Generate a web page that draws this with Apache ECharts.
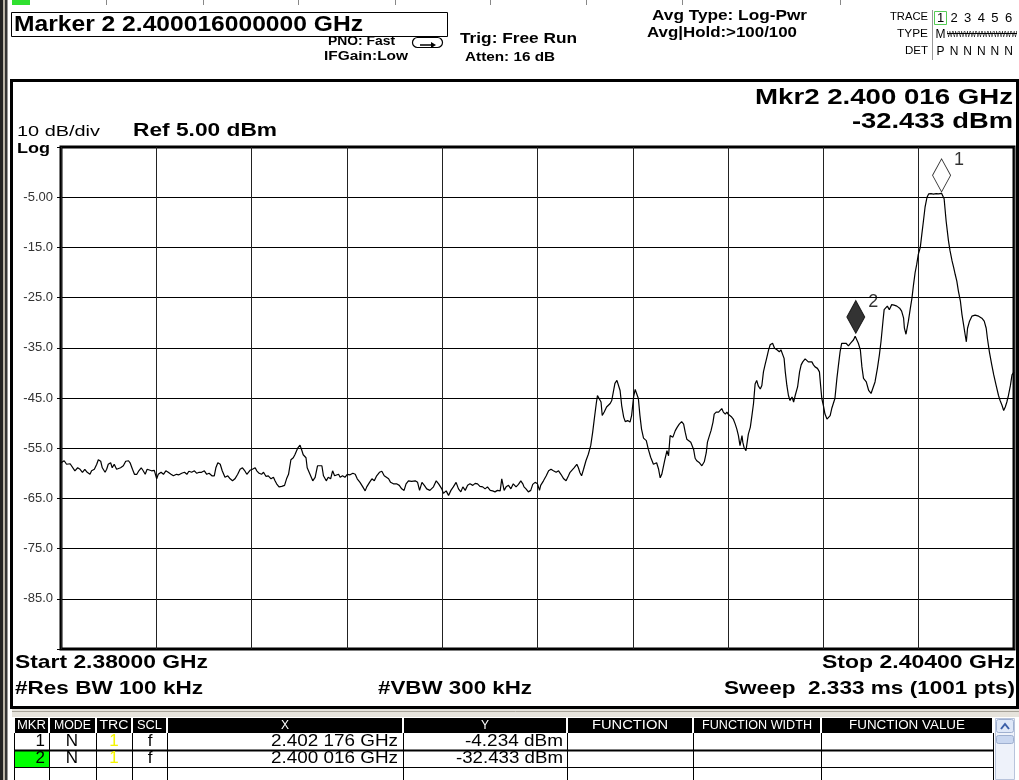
<!DOCTYPE html>
<html>
<head>
<meta charset="utf-8">
<title>Marker 2 2.400016000000 GHz</title>
<script src="https://cdn.jsdelivr.net/npm/echarts@6/dist/echarts.min.js"></script>
<style>
  html, body { margin: 0; padding: 0; background: #fff; }
  #chart { width: 1019px; height: 780px; }
</style>
</head>
<body>
<div id="chart"></div>
<script>
// sweep setup
const startGHz = 2.38;
const stopGHz = 2.404;
const refLevelDbm = 5;
const dbPerDiv = 10;
const yTickLabels = ['-5.00', '-15.0', '-25.0', '-35.0', '-45.0', '-55.0', '-65.0', '-75.0', '-85.0'];

// trace 1 : [MHz above start, dBm]
const trace1 = [
  [0.00,-57.9],[0.08,-57.5],[0.14,-58.2],[0.23,-58.1],[0.27,-57.9],[0.35,-59.5],[0.42,-58.9],[0.48,-59.2],
  [0.54,-59.8],[0.60,-59.2],[0.66,-59.8],[0.73,-60.2],[0.77,-59.5],[0.84,-59.2],[0.90,-58.2],[0.94,-57.3],
  [1.00,-57.6],[1.04,-58.9],[1.11,-59.8],[1.15,-59.2],[1.19,-58.2],[1.25,-57.9],[1.29,-58.9],[1.34,-58.2],
  [1.40,-59.2],[1.44,-59.5],[1.50,-58.9],[1.57,-58.5],[1.63,-57.6],[1.70,-57.5],[1.74,-57.9],[1.80,-59.2],
  [1.85,-60.2],[1.91,-60.2],[1.96,-59.5],[2.02,-58.9],[2.07,-59.5],[2.12,-60.2],[2.17,-59.2],[2.22,-58.9],
  [2.28,-59.5],[2.35,-59.4],[2.41,-61.1],[2.45,-60.2],[2.52,-59.8],[2.58,-60.2],[2.64,-59.5],[2.70,-59.8],
  [2.77,-60.2],[2.83,-60.5],[2.91,-60.2],[2.97,-60.3],[3.04,-60.0],[3.11,-59.8],[3.17,-60.2],[3.22,-59.6],
  [3.29,-59.8],[3.36,-59.5],[3.42,-60.0],[3.48,-59.8],[3.54,-59.8],[3.61,-59.5],[3.67,-60.2],[3.73,-60.0],
  [3.80,-60.5],[3.86,-60.5],[3.90,-58.9],[3.95,-57.9],[4.01,-58.2],[4.06,-59.5],[4.13,-60.8],[4.20,-60.5],
  [4.26,-61.1],[4.32,-61.5],[4.38,-61.1],[4.45,-60.2],[4.51,-59.2],[4.57,-58.9],[4.62,-59.4],[4.68,-60.2],
  [4.72,-60.5],[4.76,-59.4],[4.82,-59.2],[4.89,-58.9],[4.93,-59.5],[4.99,-60.0],[5.05,-60.2],[5.10,-59.8],
  [5.16,-60.6],[5.22,-60.5],[5.29,-61.1],[5.35,-60.8],[5.39,-61.5],[5.43,-62.1],[5.49,-62.7],[5.56,-62.6],
  [5.63,-62.4],[5.68,-61.1],[5.73,-60.2],[5.79,-57.3],[5.85,-56.9],[5.89,-56.3],[5.96,-55.0],[6.02,-54.4],
  [6.06,-55.3],[6.10,-56.3],[6.17,-56.9],[6.20,-58.9],[6.27,-60.2],[6.34,-61.5],[6.40,-60.8],[6.46,-58.5],
  [6.51,-58.2],[6.57,-58.5],[6.61,-60.5],[6.68,-61.5],[6.73,-60.8],[6.79,-61.1],[6.84,-59.5],[6.89,-60.5],
  [6.94,-60.8],[6.99,-60.2],[7.03,-60.8],[7.09,-60.5],[7.15,-60.8],[7.21,-60.2],[7.28,-60.3],[7.35,-60.0],
  [7.41,-60.2],[7.46,-61.1],[7.53,-61.8],[7.60,-62.7],[7.66,-63.5],[7.70,-62.7],[7.77,-61.8],[7.83,-61.1],
  [7.89,-61.5],[7.95,-60.5],[8.02,-59.8],[8.08,-59.6],[8.14,-60.5],[8.19,-60.8],[8.25,-61.1],[8.30,-61.8],
  [8.37,-62.1],[8.45,-62.1],[8.52,-62.4],[8.58,-63.1],[8.64,-63.4],[8.69,-62.1],[8.75,-61.5],[8.83,-61.6],
  [8.92,-61.5],[8.98,-61.8],[9.03,-63.4],[9.09,-61.8],[9.15,-62.4],[9.21,-63.1],[9.29,-63.4],[9.38,-62.7],
  [9.45,-61.5],[9.51,-62.1],[9.55,-62.4],[9.59,-63.1],[9.63,-64.0],[9.70,-63.5],[9.76,-64.4],[9.82,-63.4],
  [9.88,-62.7],[9.95,-61.8],[10.01,-63.1],[10.07,-63.7],[10.12,-62.7],[10.18,-63.4],[10.24,-62.4],[10.30,-62.1],
  [10.37,-62.4],[10.43,-62.0],[10.49,-62.1],[10.55,-62.6],[10.62,-62.7],[10.68,-63.1],[10.74,-62.7],[10.81,-63.4],
  [10.87,-63.5],[10.93,-63.7],[10.99,-63.4],[11.06,-63.5],[11.10,-61.1],[11.16,-63.4],[11.21,-62.7],[11.27,-62.4],
  [11.33,-63.1],[11.39,-62.1],[11.46,-62.7],[11.52,-62.2],[11.58,-61.5],[11.63,-62.1],[11.66,-62.7],[11.71,-63.1],
  [11.77,-63.7],[11.83,-63.4],[11.88,-62.2],[11.94,-61.8],[12.00,-62.1],[12.05,-63.4],[12.08,-62.4],[12.15,-61.5],
  [12.22,-60.5],[12.28,-59.5],[12.34,-59.2],[12.40,-59.5],[12.47,-59.8],[12.53,-59.5],[12.59,-60.2],[12.66,-61.1],
  [12.72,-61.5],[12.78,-60.5],[12.82,-59.8],[12.86,-59.9],[12.92,-58.9],[12.99,-58.2],[13.03,-58.9],[13.07,-59.9],
  [13.11,-60.5],[13.16,-59.2],[13.22,-57.5],[13.28,-56.2],[13.34,-54.5],[13.39,-51.8],[13.43,-49.2],[13.48,-46.1],
  [13.51,-44.5],[13.56,-44.6],[13.60,-45.8],[13.63,-48.5],[13.68,-47.8],[13.74,-46.8],[13.83,-46.1],[13.87,-45.5],
  [13.91,-43.8],[13.95,-42.1],[14.00,-41.5],[14.04,-41.8],[14.08,-43.5],[14.12,-46.5],[14.17,-48.8],[14.21,-49.7],
  [14.27,-49.5],[14.33,-49.8],[14.37,-48.5],[14.40,-48.2],[14.42,-44.8],[14.46,-43.3],[14.50,-43.0],[14.54,-45.1],
  [14.58,-48.5],[14.62,-51.2],[14.67,-53.0],[14.74,-53.5],[14.79,-55.2],[14.85,-56.8],[14.92,-58.2],[14.96,-58.5],
  [15.00,-57.9],[15.05,-59.2],[15.09,-60.9],[15.13,-60.2],[15.17,-59.9],[15.21,-57.2],[15.26,-55.5],[15.30,-56.5],
  [15.34,-52.5],[15.41,-52.8],[15.47,-51.5],[15.52,-50.8],[15.57,-50.2],[15.63,-49.7],[15.68,-50.2],[15.72,-51.8],
  [15.76,-53.2],[15.80,-53.0],[15.86,-53.8],[15.93,-55.2],[15.97,-57.0],[16.01,-57.5],[16.08,-57.9],[16.14,-58.5],
  [16.20,-57.7],[16.25,-55.9],[16.28,-53.8],[16.33,-52.5],[16.37,-51.5],[16.42,-49.8],[16.45,-48.2],[16.50,-47.8],
  [16.56,-47.8],[16.60,-47.5],[16.64,-47.1],[16.68,-47.8],[16.73,-48.2],[16.77,-47.8],[16.81,-48.3],[16.85,-48.2],
  [16.89,-48.8],[16.93,-49.2],[16.98,-50.2],[17.02,-51.2],[17.06,-52.5],[17.10,-54.5],[17.15,-52.5],[17.17,-53.8],
  [17.20,-54.8],[17.25,-55.5],[17.29,-55.2],[17.31,-52.2],[17.36,-50.8],[17.40,-48.5],[17.44,-46.1],[17.48,-42.2],
  [17.52,-41.5],[17.56,-42.6],[17.61,-43.2],[17.65,-42.5],[17.69,-39.8],[17.73,-38.4],[17.77,-37.1],[17.82,-35.4],
  [17.86,-34.4],[17.92,-34.1],[17.97,-35.1],[18.03,-35.4],[18.09,-35.8],[18.13,-35.4],[18.18,-35.4],[18.21,-37.1],
  [18.24,-39.8],[18.28,-42.5],[18.32,-44.5],[18.36,-45.5],[18.41,-44.8],[18.45,-45.8],[18.49,-44.5],[18.55,-42.8],
  [18.60,-39.8],[18.64,-38.4],[18.68,-37.8],[18.74,-37.2],[18.78,-37.0],[18.82,-37.8],[18.87,-38.1],[18.91,-37.8],
  [18.95,-38.4],[18.99,-38.8],[19.05,-39.1],[19.10,-39.8],[19.13,-42.5],[19.16,-45.1],[19.20,-46.5],[19.24,-48.2],
  [19.29,-49.2],[19.33,-49.5],[19.37,-48.5],[19.41,-47.1],[19.45,-46.8],[19.49,-45.1],[19.54,-41.1],[19.58,-38.4],
  [19.62,-35.8],[19.66,-34.1],[19.71,-33.8],[19.77,-34.1],[19.83,-34.6],[19.88,-34.1],[19.92,-34.3],[19.96,-33.4],
  [20.00,-32.7],[20.016,-32.433],[20.04,-32.9],[20.08,-34.1],[20.13,-35.4],[20.17,-38.8],[20.21,-41.1],[20.28,-41.8],
  [20.34,-43.5],[20.40,-44.1],[20.45,-43.8],[20.50,-41.8],[20.56,-39.1],[20.61,-36.4],[20.65,-33.8],[20.70,-29.7],
  [20.73,-27.4],[20.78,-27.1],[20.81,-26.7],[20.86,-27.4],[20.92,-26.4],[20.98,-26.5],[21.05,-26.7],[21.12,-27.1],
  [21.17,-27.7],[21.22,-29.1],[21.24,-31.1],[21.28,-32.3],[21.30,-32.1],[21.34,-29.7],[21.39,-27.1],[21.43,-25.1],
  [21.47,-22.4],[21.51,-20.0],[21.55,-18.4],[21.59,-16.4],[21.64,-15.0],[21.68,-12.3],[21.72,-9.7],[21.76,-7.0],
  [21.81,-5.0],[21.85,-4.35],[21.91,-4.3],[21.97,-4.4],[22.04,-4.28],[22.10,-4.35],[22.176,-4.234],[22.21,-4.3],
  [22.24,-5.3],[22.29,-9.7],[22.35,-13.7],[22.39,-15.7],[22.44,-17.7],[22.48,-19.0],[22.52,-20.4],[22.56,-21.7],
  [22.60,-23.7],[22.65,-25.7],[22.69,-28.4],[22.73,-30.4],[22.77,-32.4],[22.80,-33.8],[22.83,-31.1],[22.88,-29.7],
  [22.94,-28.7],[23.02,-28.5],[23.11,-28.7],[23.19,-29.1],[23.25,-29.7],[23.30,-31.1],[23.33,-33.1],[23.38,-35.8],
  [23.44,-38.4],[23.49,-40.4],[23.55,-42.5],[23.61,-44.5],[23.65,-45.5],[23.70,-46.5],[23.74,-47.5],[23.78,-46.8],
  [23.82,-45.8],[23.86,-44.5],[23.91,-42.5],[23.95,-40.4],[24.00,-39.8]
];

// markers
const markerIds = ['1', '2'];
const markerOffsetMHz = [22.176, 20.016];
const markerLevelDbm = [-4.234, -32.433];
const markerFreqText = ['2.402 176 GHz', '2.400 016 GHz'];
const markerLevelText = ['-4.234 dBm', '-32.433 dBm'];
const activeMarker = 1;

// trace table (top right)
const traceNums = ['1', '2', '3', '4', '5', '6'];
const traceDet = ['P', 'N', 'N', 'N', 'N', 'N'];

const spanMHz = Math.round((stopGHz - startGHz) * 1000);

const SANS = '"Liberation Sans", Arial, sans-serif';
const NARROW = '"Liberation Sans Narrow", "Liberation Sans", Arial, sans-serif';
const measure = document.createElement('canvas').getContext('2d');

// text with optional stretch to a target width (instrument font is wider than Arial)
function txt(x, y, text, size, opt) {
  opt = opt || {};
  const font = (opt.bold ? 'bold ' : '') + size + 'px ' + (opt.family || SANS);
  let sx = 1;
  if (opt.w) {
    measure.font = font;
    sx = opt.w / measure.measureText(text).width;
  }
  const align = opt.align || 'left';
  return {
    type: 'text', x: x, y: y, scaleX: sx, z: 20, silent: true,
    style: {
      text: text, font: font, fill: opt.color || '#000',
      align: align, verticalAlign: 'middle',
      textAlign: align, textVerticalAlign: 'middle'
    }
  };
}
function box(x, y, w, h, fill, stroke, lw, r) {
  return {
    type: 'rect', z: 5, silent: true,
    shape: { x: x, y: y, width: w, height: h, r: r || 0 },
    style: { fill: fill || 'none', stroke: stroke || 'none', lineWidth: lw || 1 }
  };
}
function ln(x1, y1, x2, y2, color, lw) {
  return {
    type: 'line', z: 6, silent: true,
    shape: { x1: x1, y1: y1, x2: x2, y2: y2 },
    style: { stroke: color || '#000', lineWidth: lw || 1 }
  };
}

const g = [];

// frame / header
g.push(box(0, 0, 3, 780, '#222'));
g.push(box(3, 0, 2, 780, '#b9b3a6'));
g.push(box(5, 0, 2.5, 780, '#333'));
g.push(box(12, 0, 18, 5, '#2fe02f'));
[106, 203, 298, 395, 490, 586, 682, 840].forEach(function (x) { g.push(ln(x + 0.5, 0, x + 0.5, 5, '#888', 1)); });
g.push(box(11.5, 12.5, 436, 24, '#fff', '#000', 1));
g.push(txt(14, 25, 'Marker 2 2.400016000000 GHz', 22, { bold: true, w: 349 }));
g.push(txt(328, 41, 'PNO: Fast', 13, { bold: true, w: 67 }));
g.push(txt(324, 56, 'IFGain:Low', 13, { bold: true, w: 84 }));
g.push(box(412.5, 37.5, 30, 10, 'none', '#000', 1.2, 5));
g.push(ln(420, 45, 432, 45, '#000', 1.5));
g.push({ type: 'polygon', z: 6, silent: true, shape: { points: [[431, 42], [436, 45], [431, 48]] }, style: { fill: '#000' } });
g.push(txt(460, 39, 'Trig: Free Run', 14, { bold: true, w: 117 }));
g.push(txt(465, 57, 'Atten: 16 dB', 13, { bold: true, w: 90 }));
g.push(txt(652, 16, 'Avg Type: Log-Pwr', 14, { bold: true, w: 155 }));
g.push(txt(647, 33, 'Avg|Hold:>100/100', 14, { bold: true, w: 150 }));

// trace type/detector block
g.push(txt(928, 17, 'TRACE', 11, { align: 'right', w: 38 }));
g.push(txt(928, 34, 'TYPE', 11, { align: 'right', w: 31 }));
g.push(txt(928, 51, 'DET', 11, { align: 'right', w: 23 }));
g.push(ln(932.5, 10, 932.5, 60, '#999', 1));
g.push(box(934.5, 11.5, 12, 13, 'none', '#5c5', 1));
traceNums.forEach(function (t, i) {
  const cx = 940.5 + i * 13.6;
  g.push(txt(cx, 18, t, 13, { align: 'center' }));
  g.push(txt(cx, 52, traceDet[i], 12, { align: 'center' }));
});
g.push(txt(940.5, 35, 'M', 12, { align: 'center' }));
g.push(txt(947, 35, 'WWWWWWWWWWWW', 9, { w: 70 }));
g.push(ln(947, 33.5, 1017, 33.5, '#000', 1));

// instrument screen panel
g.push(box(11.5, 80.5, 1006, 627, 'none', '#000', 3));
g.push(txt(17, 132, '10 dB/div', 14, { w: 83 }));
g.push(txt(17, 149, 'Log', 14, { bold: true, w: 33 }));
g.push(txt(133, 131, 'Ref ' + refLevelDbm.toFixed(2) + ' dBm', 18, { bold: true, w: 144 }));
g.push(txt(1013, 98, 'Mkr2 ' + markerFreqText[activeMarker], 22, { bold: true, align: 'right', w: 258 }));
g.push(txt(1013, 122, markerLevelText[activeMarker], 22, { bold: true, align: 'right', w: 161 }));
g.push(txt(15, 663, 'Start 2.38000 GHz', 19, { bold: true, w: 193 }));
g.push(txt(1015, 663, 'Stop 2.40400 GHz', 19, { bold: true, align: 'right', w: 193 }));
g.push(txt(15, 689, '#Res BW 100 kHz', 19, { bold: true, w: 188 }));
g.push(txt(378, 689, '#VBW 300 kHz', 19, { bold: true, w: 154 }));
g.push(txt(1015, 689, 'Sweep  2.333 ms (1001 pts)', 19, { bold: true, align: 'right', w: 291 }));

// marker table
g.push(box(12, 709, 1007, 8, '#e6e3dc'));
g.push(ln(12, 711.5, 1019, 711.5, '#a8a49a', 1));
const tableCols = [
  { name: 'MKR', x0: 15, x1: 48, w: 29 },
  { name: 'MODE', x0: 50, x1: 95, w: 37 },
  { name: 'TRC', x0: 97, x1: 131, w: 29 },
  { name: 'SCL', x0: 133, x1: 166, w: 25 },
  { name: 'X', x0: 168, x1: 402 },
  { name: 'Y', x0: 404, x1: 566 },
  { name: 'FUNCTION', x0: 568, x1: 692, w: 76 },
  { name: 'FUNCTION WIDTH', x0: 694, x1: 820, w: 110 },
  { name: 'FUNCTION VALUE', x0: 822, x1: 992, w: 116 }
];
const headTop = 718, rowH = 17;
tableCols.forEach(function (c) {
  g.push(box(c.x0, headTop, c.x1 - c.x0, 15, '#000'));
  g.push(txt((c.x0 + c.x1) / 2, headTop + 8, c.name, 12, { align: 'center', color: '#fff', family: NARROW, w: c.w }));
  g.push(ln(c.x1 + 1.5, headTop + 15, c.x1 + 1.5, 780, '#000', 1));
});
g.push(ln(14.5, headTop + 15, 14.5, 780, '#000', 1));
markerIds.forEach(function (id, i) {
  const cy = headTop + 15 + rowH * i + rowH / 2;
  if (i === activeMarker) g.push(box(15, cy - rowH / 2 + 1, 34, rowH - 1, '#00ff00'));
  g.push(txt(45, cy, id, 17, { align: 'right', family: NARROW }));
  g.push(txt(72, cy, 'N', 17, { align: 'center', family: NARROW }));
  g.push(txt(114, cy, traceNums[0], 17, { align: 'center', family: NARROW, color: '#f5f500' }));
  g.push(txt(150, cy, 'f', 17, { align: 'center', family: NARROW }));
  g.push(txt(398, cy, markerFreqText[i], 17, { align: 'right', family: NARROW, w: 127 }));
  g.push(txt(563, cy, markerLevelText[i], 17, { align: 'right', family: NARROW, w: i === 0 ? 98 : 107 }));
});
g.push(ln(15, headTop + 15 + rowH + 0.5, 993, headTop + 15 + rowH + 0.5, '#000', 2));
g.push(ln(15, headTop + 15 + rowH * 2 + 0.5, 993, headTop + 15 + rowH * 2 + 0.5, '#000', 1));
// scroll bar
g.push(box(995.5, 718.5, 19, 61, '#eef2fa', '#b8c4dc', 1));
g.push(box(996.5, 719.5, 17, 13, '#dfe8f8', '#9fb0d0', 1, 2));
g.push({ type: 'polyline', z: 7, silent: true, shape: { points: [[1001, 729], [1005, 724], [1009, 729]] }, style: { stroke: '#3b5fa8', lineWidth: 2, fill: 'none' } });
g.push(box(996.5, 735.5, 17, 8, '#c9d7f0', '#9fb0d0', 1, 2));

const chart = echarts.init(document.getElementById('chart'), null, { renderer: 'canvas' });

chart.setOption({
  animation: false,
  backgroundColor: '#fff',
  grid: {
    left: 61, right: 5, top: 147, bottom: 131,
    show: true, borderColor: '#000', borderWidth: 3, backgroundColor: '#fff'
  },
  xAxis: {
    type: 'value', min: 0, max: spanMHz, interval: spanMHz / 10,
    axisLine: { show: false }, axisTick: { show: false }, axisLabel: { show: false },
    splitLine: { show: true, lineStyle: { color: '#222', width: 1 } }
  },
  yAxis: {
    // plotted relative to the reference level so the grid starts at the top line
    type: 'value', min: -dbPerDiv * 10, max: 0, interval: dbPerDiv,
    axisLine: { show: false },
    axisTick: { show: true, length: 4, lineStyle: { color: '#000' } },
    axisLabel: {
      margin: 8, fontSize: 13, color: '#333', fontFamily: SANS,
      formatter: function (v) { return yTickLabels[Math.round(-v / dbPerDiv) - 1] || ''; }
    },
    splitLine: { show: true, lineStyle: { color: '#000', width: 1 } }
  },
  series: [
    {
      type: 'line',
      data: trace1.map(function (p) { return [p[0], p[1] - refLevelDbm]; }),
      showSymbol: false,
      silent: true,
      lineStyle: { color: '#000', width: 1.2 },
      z: 3
    },
    {
      type: 'scatter',
      silent: true,
      symbol: 'diamond',
      symbolSize: [18, 33],
      symbolOffset: [0, -18],
      z: 4,
      data: markerIds.map(function (id, i) {
        return {
          name: id,
          value: [markerOffsetMHz[i], markerLevelDbm[i] - refLevelDbm],
          itemStyle: i === activeMarker
            ? { color: '#000', borderColor: '#000', borderWidth: 1 }
            : { color: '#fff', borderColor: '#000', borderWidth: 1 }
        };
      }),
      label: {
        show: true, position: 'right', distance: 3, offset: [0, -15],
        formatter: '{b}', fontSize: 18, color: '#000', fontFamily: SANS
      }
    }
  ],
  graphic: { elements: g }
});
</script>
</body>
</html>
